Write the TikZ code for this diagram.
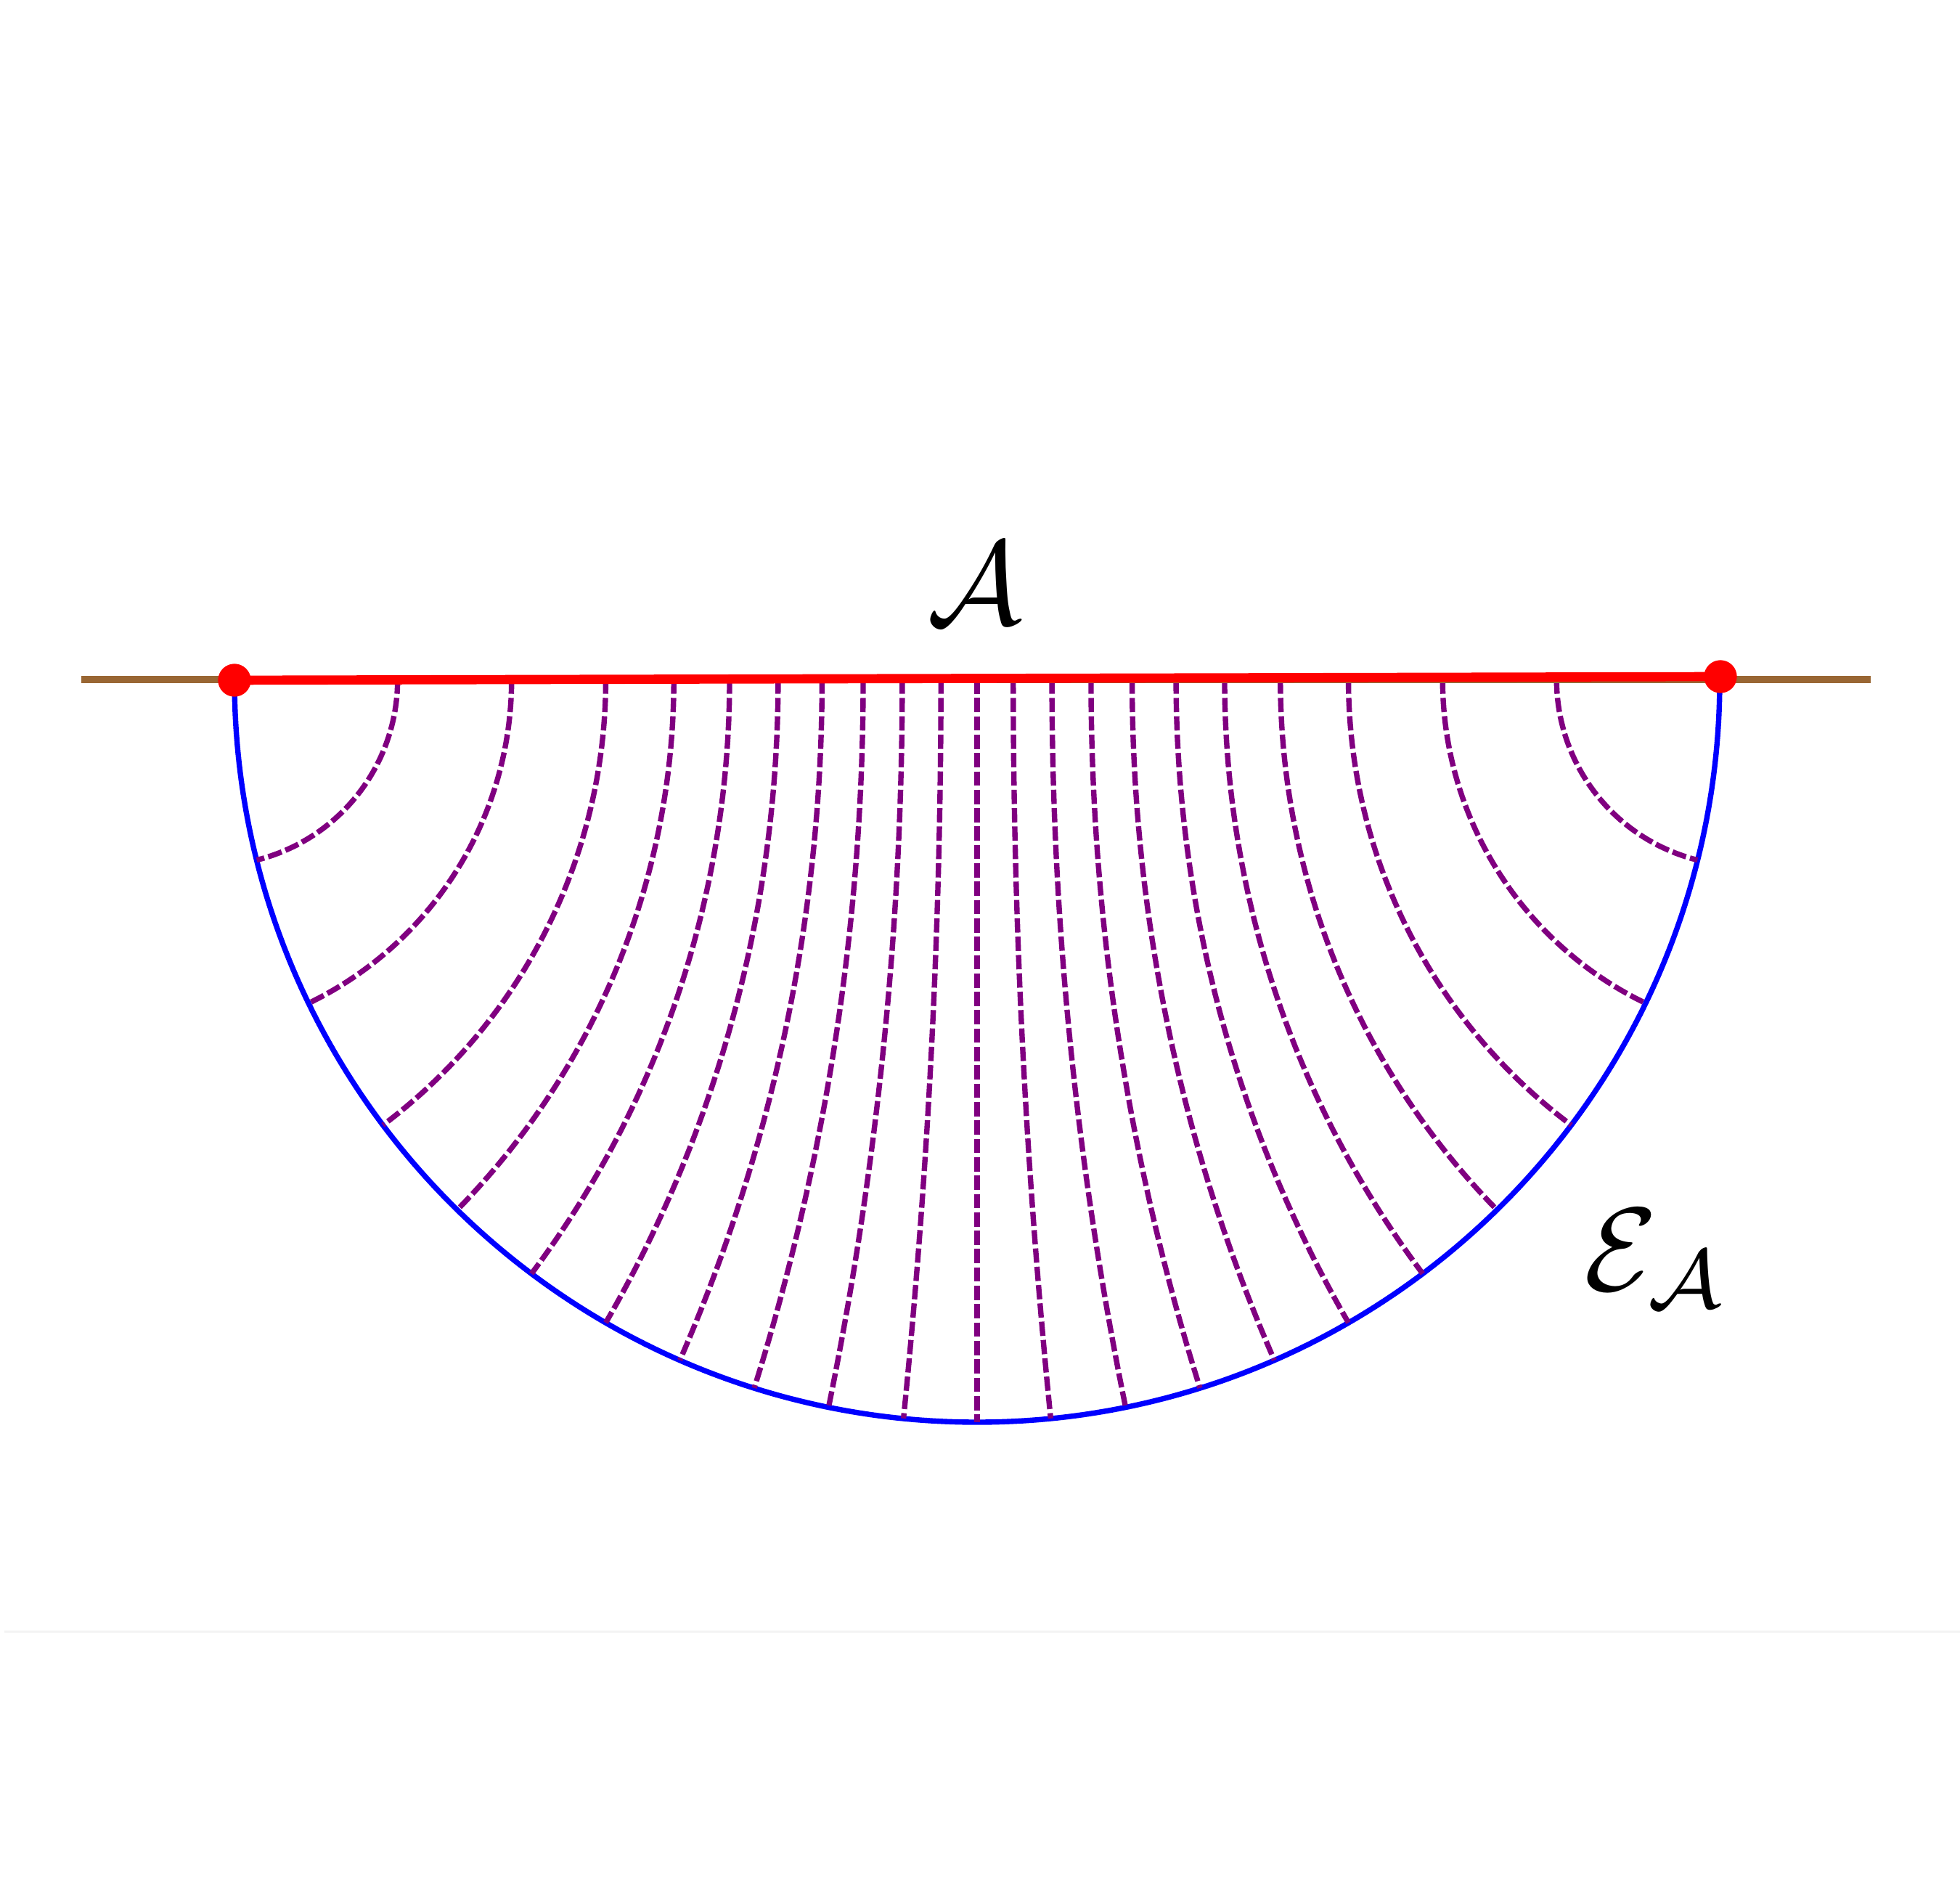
\documentclass[tikz,border=0pt]{standalone}
\begin{document}
\begin{tikzpicture}[
  geo/.style={draw={rgb,255:red,128;green,0;blue,128}, line width=2.1pt, dash pattern=on 5.6pt off 1.6pt},
  rt/.style={draw={rgb,255:red,0;green,0;blue,255}, line width=2.1pt},
  bdy/.style={draw={rgb,255:red,153;green,102;blue,51}, line width=3pt},
  intv/.style={draw={rgb,255:red,255;green,0;blue,0}, line width=3.6pt},
  endpt/.style={circle, fill={rgb,255:red,255;green,0;blue,0}, minimum size=0.45cm, inner sep=0pt},
  lbl/.style={inner sep=0pt, scale=4.65}
]
\useasboundingbox (-13.46,9.36) rectangle (13.54,-16.66);
\def\R{10.23}
% faint edge line
\draw[draw={rgb,255:red,243;green,243;blue,243}, line width=0.85pt] (-13.40,-13.11) -- (13.54,-13.11);
% RT surface
\draw[rt] (-\R,0) arc[start angle=180, end angle=360, radius=\R];
% geodesics orthogonal to the RT surface
\foreach \c in {0.97,0.9,0.8,0.7,0.6,0.5,0.4,0.3,0.2,0.1}{
  \pgfmathsetmacro\ph{acos(\c)}
  \pgfmathsetmacro\D{\R/\c}
  \pgfmathsetmacro\r{\R*tan(\ph)}
  \draw[geo] ({\D-\r},0) arc[start angle=180, end angle={270-\ph}, radius=\r];
  \draw[geo] ({-\D+\r},0) arc[start angle=0, end angle={\ph-90}, radius=\r];
}
\coordinate (top) at (0,0);
\coordinate (bot) at (0,-\R);
\draw[geo] (top) -- (bot);
% boundary
\coordinate (bl) at (-12.34,0);
\coordinate (br) at (12.31,0);
\draw[bdy] (bl) -- (br);
% interval A
\node[endpt] (pl) at (-10.23,-0.01) {};
\node[endpt] (pr) at (10.24,0.04) {};
\draw[intv] (pl.center) -- (pr.center);
\node[endpt] at (pl.center) {};
\node[endpt] at (pr.center) {};
% labels
\node[lbl] (A) at (-0.03,1.32) {$\mathcal{A}$};
\node[lbl, anchor=base west] (EA) at (8.33,-8.41) {$\mathcal{E}_{\mathcal{A}}$};
\end{tikzpicture}
\end{document}
